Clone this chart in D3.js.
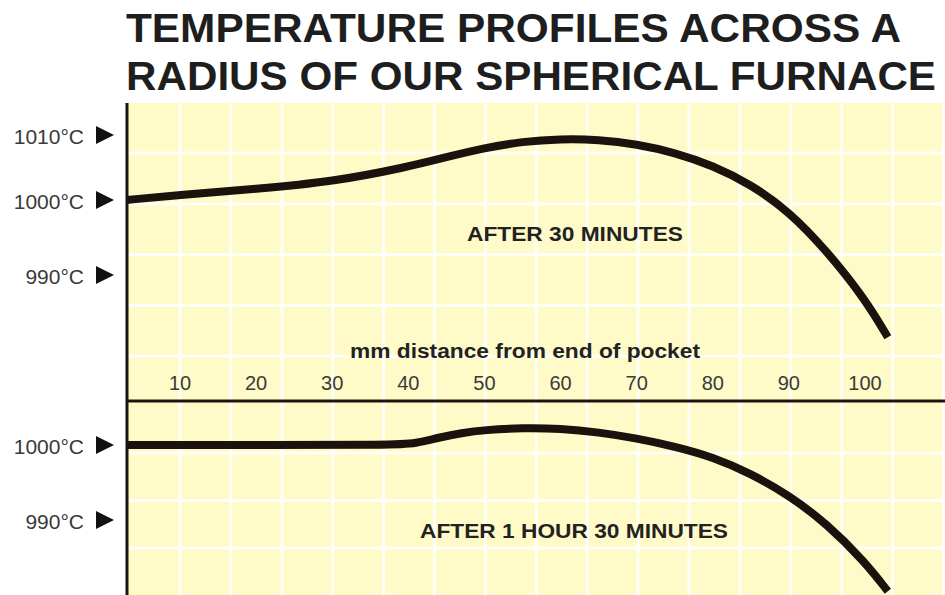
<!DOCTYPE html>
<html>
<head>
<meta charset="utf-8">
<script src="https://cdn.jsdelivr.net/npm/d3@7"></script>
<style>
  body { margin: 0; background: #fff; }
  text { font-family: "Liberation Sans", Arial, sans-serif; }
</style>
</head>
<body>
<svg id="chart" width="945" height="595"></svg>
<script>
// data (mm from end of pocket, deg C)
let mm30 = [3, 10, 20, 30, 40, 45, 50, 55, 60, 65, 70, 75, 80, 85, 90, 95, 100, 103];
let temp30 = [1000.0, 1000.8, 1001.7, 1002.8, 1005.1, 1006.6, 1008.0, 1009.0, 1009.4, 1009.3, 1008.6, 1007.3, 1005.3, 1002.4, 998.5, 993.2, 986.8, 981.7];

let mm90 = [3, 20, 38, 41, 44, 47, 50, 55, 60, 65, 70, 75, 80, 85, 90, 95, 100, 103];
let temp90 = [1000.0, 1000.0, 1000.0, 1000.2, 1001.0, 1001.6, 1002.0, 1002.3, 1002.2, 1001.7, 1000.9, 999.8, 998.4, 996.2, 993.3, 989.5, 984.4, 980.5];

let xTicks = [10, 20, 30, 40, 50, 60, 70, 80, 90, 100];
let topTicks = [1010, 1000, 990];
let bottomTicks = [1000, 990];

let titleLines = ["TEMPERATURE PROFILES ACROSS A", "RADIUS OF OUR SPHERICAL FURNACE"];

const pLeft = 127, pRight = 945, pTop = 103, axisY = 401, pBottom = 595;

const svg = d3.select("#chart");

const x = d3.scaleLinear().domain([10, 100]).range([180, 865]);
const yTop = d3.scaleLinear().domain([990, 1000, 1010]).range([275, 200, 135]);
const yBottom = d3.scaleLinear().domain([990, 1000]).range([520, 445]);

// title
svg.selectAll(".title")
   .data(titleLines)
   .enter().append("text")
   .attr("x", 126)
   .attr("y", (d, i) => 42 + i * 48)
   .attr("font-size", 41)
   .attr("font-weight", "bold")
   .attr("fill", "#1e1e1e")
   .attr("textLength", (d, i) => i ? 810 : 775)
   .attr("lengthAdjust", "spacingAndGlyphs")
   .text(d => d);

// yellow paper
svg.append("rect")
   .attr("x", pLeft).attr("y", pTop)
   .attr("width", pRight - pLeft).attr("height", pBottom - pTop)
   .attr("fill", "#fffbc8");

// graph paper grid
const grid = svg.append("g")
                .attr("stroke", "#fff")
                .attr("stroke-width", 3)
                .attr("stroke-opacity", 0.85);

grid.selectAll(".v")
    .data(d3.range(180, pRight, 50.9))
    .enter().append("line")
    .attr("x1", d => d).attr("x2", d => d)
    .attr("y1", pTop).attr("y2", pBottom);

grid.selectAll(".h")
    .data(d3.range(153, axisY - 20, 50.8).concat(d3.range(453, pBottom, 47.5)))
    .enter().append("line")
    .attr("x1", pLeft).attr("x2", pRight)
    .attr("y1", d => d).attr("y2", d => d);

// axes
svg.append("line")
   .attr("x1", pLeft).attr("x2", pLeft)
   .attr("y1", pTop).attr("y2", pBottom)
   .attr("stroke", "#1c140e").attr("stroke-width", 3);

svg.append("line")
   .attr("x1", pLeft).attr("x2", pRight)
   .attr("y1", axisY).attr("y2", axisY)
   .attr("stroke", "#1c140e").attr("stroke-width", 3);

// x tick labels
svg.selectAll(".xt")
   .data(xTicks)
   .enter().append("text")
   .attr("x", d => x(d))
   .attr("y", 390)
   .attr("text-anchor", "middle")
   .attr("font-size", 20)
   .attr("fill", "#3a3a3a")
   .text(d => d);

svg.append("text")
   .attr("x", 525).attr("y", 358)
   .attr("text-anchor", "middle")
   .attr("font-size", 20)
   .attr("font-weight", "bold")
   .attr("fill", "#222")
   .attr("textLength", 350)
   .attr("lengthAdjust", "spacingAndGlyphs")
   .text("mm distance from end of pocket");

// y labels with arrows
function yLabels(ticks, scale) {
	const g = svg.append("g");
	const t = g.selectAll("g")
			   .data(ticks)
			   .enter().append("g")
			   .attr("transform", d => `translate(0,${scale(d)})`);
	t.append("text")
	 .attr("x", 84)
	 .attr("y", 2)
	 .attr("dy", "0.35em")
	 .attr("text-anchor", "end")
	 .attr("font-size", 21)
	 .attr("fill", "#3a3a3a")
	 .text(d => d + "°C");
	t.append("path")
	 .attr("d", "M96,-9L114,0L96,9Z")
	 .attr("fill", "#111");
}
yLabels(topTicks, yTop);
yLabels(bottomTicks, yBottom);

// curves
const line30 = d3.line()
				 .x(d => x(d[0]))
				 .y(d => yTop(d[1]))
				 .curve(d3.curveBasis);

const line90 = d3.line()
				 .x(d => x(d[0]))
				 .y(d => yBottom(d[1]))
				 .curve(d3.curveBasis);

svg.append("path")
   .attr("d", line30(d3.zip(mm30, temp30)))
   .attr("fill", "none")
   .attr("stroke", "#1a120c")
   .attr("stroke-width", 8);

svg.append("path")
   .attr("d", line90(d3.zip(mm90, temp90)))
   .attr("fill", "none")
   .attr("stroke", "#1a120c")
   .attr("stroke-width", 8);

// panel captions
svg.append("text")
   .attr("x", 575).attr("y", 241)
   .attr("text-anchor", "middle")
   .attr("font-size", 20)
   .attr("font-weight", "bold")
   .attr("fill", "#222")
   .attr("textLength", 216)
   .attr("lengthAdjust", "spacingAndGlyphs")
   .text("AFTER 30 MINUTES");

svg.append("text")
   .attr("x", 574).attr("y", 538)
   .attr("text-anchor", "middle")
   .attr("font-size", 20)
   .attr("font-weight", "bold")
   .attr("fill", "#222")
   .attr("textLength", 308)
   .attr("lengthAdjust", "spacingAndGlyphs")
   .text("AFTER 1 HOUR 30 MINUTES");
</script>
</body>
</html>
